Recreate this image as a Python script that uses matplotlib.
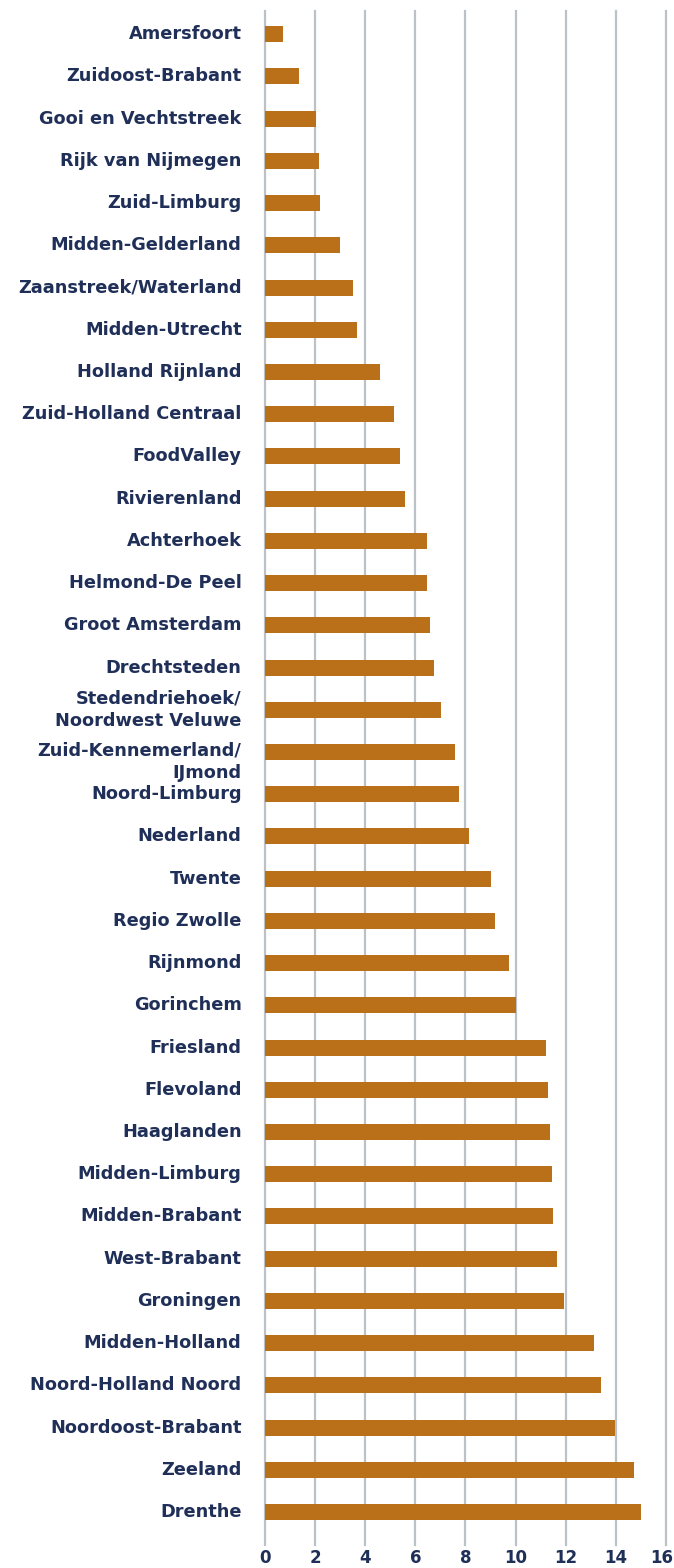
import matplotlib
matplotlib.use('Agg')
import matplotlib.pyplot as plt
import matplotlib.transforms as mtransforms

# regions, top to bottom
regions = ['Amersfoort', 'Zuidoost-Brabant', 'Gooi en Vechtstreek', 'Rijk van Nijmegen',
           'Zuid-Limburg', 'Midden-Gelderland', 'Zaanstreek/Waterland', 'Midden-Utrecht',
           'Holland Rijnland', 'Zuid-Holland Centraal', 'FoodValley', 'Rivierenland',
           'Achterhoek', 'Helmond-De Peel', 'Groot Amsterdam', 'Drechtsteden',
           'Stedendriehoek/\nNoordwest Veluwe', 'Zuid-Kennemerland/\nIJmond', 'Noord-Limburg',
           'Nederland', 'Twente', 'Regio Zwolle', 'Rijnmond', 'Gorinchem', 'Friesland',
           'Flevoland', 'Haaglanden', 'Midden-Limburg', 'Midden-Brabant', 'West-Brabant',
           'Groningen', 'Midden-Holland', 'Noord-Holland Noord', 'Noordoost-Brabant',
           'Zeeland', 'Drenthe']
values = [0.72, 1.37, 2.02, 2.15, 2.21, 2.98, 3.53, 3.66, 4.58, 5.16, 5.39, 5.6,
          6.45, 6.45, 6.6, 6.74, 7.02, 7.58, 7.73, 8.15, 9.04, 9.19, 9.75, 10.0, 11.22,
          11.3, 11.38, 11.45, 11.51, 11.66, 11.95, 13.12, 13.4, 13.96, 14.74, 15.01]
xticks = [0, 2, 4, 6, 8, 10, 12, 14, 16]

navy = '#1f2f58'
orange = '#b97018'
font = 'DejaVu Sans'
fs = 12.8

fig = plt.figure(figsize=(6.74, 15.68), dpi=100)
ax = fig.add_axes([0.393, 0.0147, 0.595, 0.9783])

y = list(range(len(regions)))
ax.barh(y, values, height=0.38, color=orange, zorder=3)

ax.set_xlim(0, 16)
ax.set_ylim(len(regions) - 1 + 0.78, -0.55)
ax.set_xticks(xticks)
ax.set_xticklabels([])
ax.tick_params(axis='x', length=0)
ax.set_yticks([])
ax.grid(axis='x', color='#bcc1c7', linewidth=1.6, zorder=0)
for gl in ax.get_xgridlines():
    gl.set_clip_on(False)  # keep the 0 and 16 lines full width
for s in ax.spines.values():
    s.set_visible(False)

# x tick labels as text; the last one is pulled in a little so it stays on the canvas
xtrans = mtransforms.blended_transform_factory(ax.transData, ax.transAxes)
for t in xticks:
    tr = xtrans
    if t == xticks[-1]:
        tr = xtrans + mtransforms.ScaledTranslation(-4 / 100, 0, fig.dpi_scale_trans)
    ax.text(t, -0.0085, str(t), transform=tr, ha='center', va='center',
            fontsize=12, fontweight='bold', color=navy, family=font)

# region labels as text so the two-line ones can be placed like the original
trans = mtransforms.blended_transform_factory(ax.transAxes, ax.transData)
for i, name in enumerate(regions):
    if name.startswith('Zuid-Kennemerland'):
        t = ax.text(-0.058, i, name, transform=trans, ha='right', va='top',
                    fontsize=fs, fontweight='bold', color=navy, family=font,
                    linespacing=1.3)
        t.set_transform(trans + mtransforms.ScaledTranslation(0, 10 / 100, fig.dpi_scale_trans))
    else:
        ax.text(-0.058, i, name, transform=trans, ha='right', va='center',
                fontsize=fs, fontweight='bold', color=navy, family=font,
                linespacing=1.3)

fig.savefig('out.png', dpi=100, facecolor='white')
